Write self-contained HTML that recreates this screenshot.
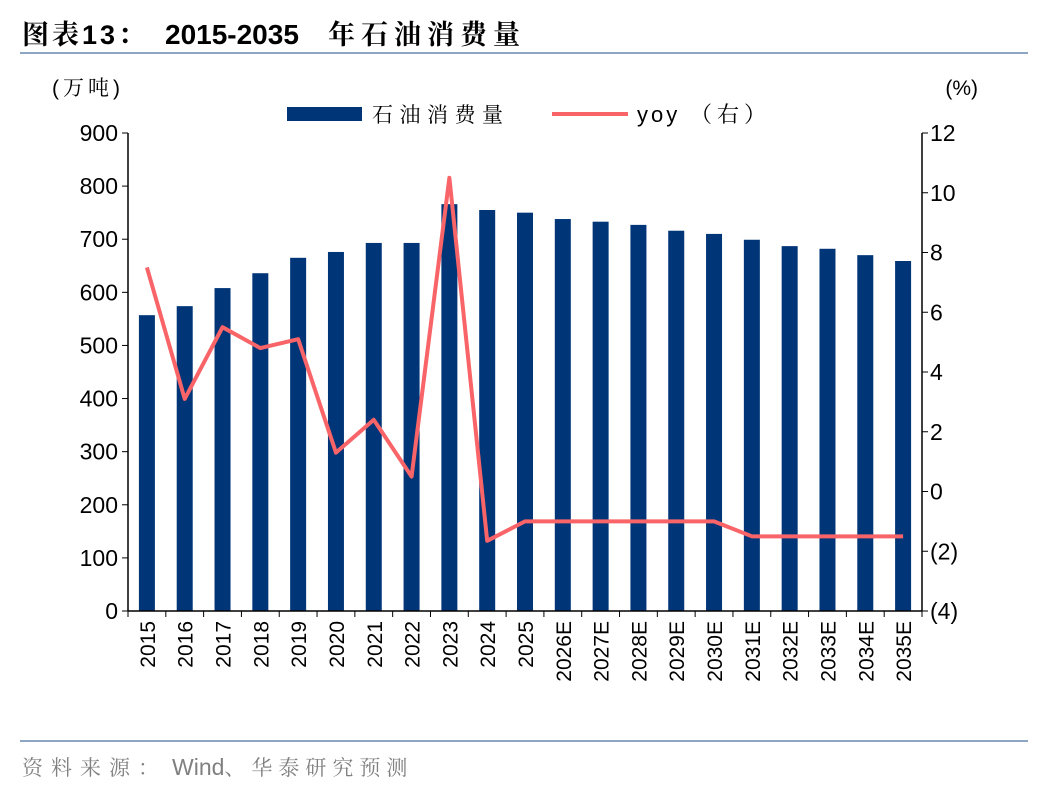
<!DOCTYPE html>
<html><head><meta charset="utf-8"><style>
body{margin:0;background:#fff;}
svg text{font-family:"Liberation Sans","Noto Sans CJK SC",sans-serif;}
svg text.cjk{font-family:"Liberation Sans","Noto Serif CJK SC",serif;}
</style></head><body>
<svg width="1048" height="792" viewBox="0 0 1048 792">
<text x="22" y="44" font-size="27" font-weight="bold" fill="#000" class="cjk"><tspan letter-spacing="3">图表13：</tspan><tspan x="165" font-family="Liberation Sans" font-size="28">2015-2035</tspan><tspan x="328" letter-spacing="6">年石油消费量</tspan></text>
<line x1="20" y1="53" x2="1028" y2="53" stroke="#8ea6c4" stroke-width="2"/>
<line x1="20" y1="741" x2="1028" y2="741" stroke="#8ea6c4" stroke-width="2"/>
<text x="22" y="775" font-size="21" fill="#808080" class="cjk"><tspan letter-spacing="8">资料来源：</tspan><tspan x="172" font-family="Liberation Sans" font-size="23">Wind</tspan><tspan letter-spacing="6">、华泰研究预测</tspan></text>
<text x="52" y="95" font-size="21" fill="#000" class="cjk" letter-spacing="4">(万吨)</text>
<text x="978" y="95" font-size="21" fill="#000" text-anchor="end">(%)</text>
<rect x="287" y="107" width="75" height="14" fill="#003578"/>
<text x="372" y="122" font-size="21" fill="#000" class="cjk" letter-spacing="6.5">石油消费量</text>
<line x1="552" y1="114" x2="628" y2="114" stroke="#f86468" stroke-width="4"/>
<text x="637" y="122" font-size="22" fill="#000" class="cjk"><tspan letter-spacing="3">yoy</tspan><tspan x="690" letter-spacing="5">（右）</tspan></text>
<g id="plot"></g>
</svg>
<script>
const categories=["2015","2016","2017","2018","2019","2020","2021","2022","2023","2024","2025","2026E","2027E","2028E","2029E","2030E","2031E","2032E","2033E","2034E","2035E"];
const consumption=[557,574,608,636,665,676,693,693,766,755,750,738,733,727,716,710,699,687,682,670,659];
const yoy=[7.5,3.1,5.5,4.8,5.1,1.3,2.4,0.5,10.5,-1.65,-1.0,-1.0,-1.0,-1.0,-1.0,-1.0,-1.5,-1.5,-1.5,-1.5,-1.5];
const leftTicks=[0,100,200,300,400,500,600,700,800,900];
const rightTicks=[-4,-2,0,2,4,6,8,10,12];
const X0=128,X1=922,Y0=611,Y1=133;
const bw=(X1-X0)/categories.length;
const xc=i=>X0+bw*(i+0.5);
const yL=v=>Y0-(v/900)*(Y0-Y1);
const yR=v=>Y0-((v+4)/16)*(Y0-Y1);
const NS="http://www.w3.org/2000/svg";
const g=document.getElementById('plot');
function mk(t,a,txt){const e=document.createElementNS(NS,t);for(const k in a)e.setAttribute(k,a[k]);if(txt!==undefined)e.textContent=txt;g.appendChild(e);return e;}
consumption.forEach((v,i)=>{
 const r=mk('rect',{x:xc(i)-8,y:yL(v),width:16,height:Y0-yL(v),fill:'#003578'});
 
 
});
let ax=mk('line',{x1:X0,y1:Y1,x2:X0,y2:Y0,stroke:'#000','stroke-width':1.5});


ax=mk('line',{x1:X1,y1:Y1,x2:X1,y2:Y0,stroke:'#000','stroke-width':1.5});


ax=mk('line',{x1:X0,y1:Y0,x2:X1,y2:Y0,stroke:'#000','stroke-width':1.5});


leftTicks.forEach(v=>{
 mk('line',{x1:X0-6,y1:yL(v),x2:X0,y2:yL(v),stroke:'#000'});
 const t=mk('text',{x:X0-10,y:yL(v)+8,'font-size':23,'text-anchor':'end'},String(v));
 
 
});
rightTicks.forEach(v=>{
 mk('line',{x1:X1,y1:yR(v),x2:X1+6,y2:yR(v),stroke:'#000'});
 const t=mk('text',{x:X1+8,y:yR(v)+8,'font-size':23},v<0?'('+(-v)+')':String(v));
 
 
});
categories.forEach((c,i)=>{
 mk('line',{x1:X0+bw*i,y1:Y0,x2:X0+bw*i,y2:Y0+6,stroke:'#000'});
 const t=mk('text',{x:0,y:0,'font-size':21,'text-anchor':'end',transform:`translate(${xc(i)+8},${Y0+10}) rotate(-90)`},c);
 
 
});
mk('line',{x1:X1,y1:Y0,x2:X1,y2:Y0+6,stroke:'#000'});
const pl=mk('polyline',{points:yoy.map((v,i)=>xc(i)+','+yR(v)).join(' '),fill:'none',stroke:'#f86468','stroke-width':4,'stroke-linejoin':'round'});


</script>
</body></html>
